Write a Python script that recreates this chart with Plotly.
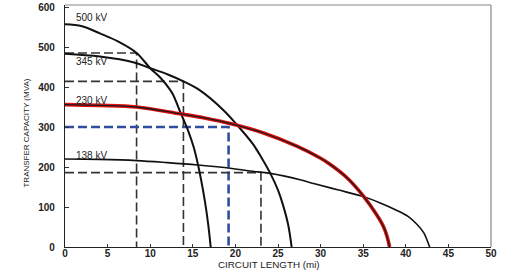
import plotly.graph_objects as go

# ---- data ----
x_500 = [0, 2.0, 4.1, 6.2, 8.4, 10.0, 11.2, 12.3, 12.7, 13.6, 14.5, 15.1, 15.6, 16.0, 16.4, 16.8, 17.1]
y_500 = [557, 552, 534, 514, 485, 447, 423, 394, 380, 334, 288, 250, 207, 165, 117, 58, 0]

x_345 = [0, 4.1, 8.0, 10.0, 12.0, 13.9, 15.8, 18.6, 20.2, 22.0, 23.1, 24.1, 25.0, 25.6, 26.2, 26.6]
y_345 = [483, 476, 462, 447, 432, 414, 392, 342, 305, 259, 222, 184, 142, 104, 55, 0]

x_230 = [0, 4.0, 8.4, 13.5, 16.5, 19.5, 23.3, 27.2, 29.9, 31.1, 33.0, 35.0, 36.6, 37.4, 37.8, 38.1]
y_230 = [356, 354, 350, 333, 322, 308, 285, 252, 223, 207, 175, 128, 80, 50, 26, 0]

x_138 = [0, 4.0, 8.4, 12.0, 15.6, 19.4, 21.7, 24.1, 27.6, 29.3, 32.0, 35.0, 37.0, 38.9, 40.3, 41.3, 42.1, 42.5, 42.8]
y_138 = [220, 219, 216, 211, 205, 197, 190, 184, 168, 158, 143, 126, 110, 92, 76, 57, 36, 17, 0]

curve_labels = ["500 kV", "345 kV", "230 kV", "138 kV"]
label_x = [1.1, 1.1, 1.1, 1.1]
label_y = [574, 463, 367, 230]

guide_x = [8.4, 13.9, 19.2, 23.0]
guide_y = [485, 414, 300, 186]
guide_color = ["#333333", "#333333", "#2f4f9e", "#333333"]
guide_width = [1.6, 1.6, 2.6, 1.6]

x_ticks = [0, 5, 10, 15, 20, 25, 30, 35, 40, 45, 50]
y_ticks = [0, 100, 200, 300, 400, 500, 600]

fig = go.Figure()

# dashed guide lines
for gx, gy, gc, gw in zip(guide_x, guide_y, guide_color, guide_width):
    fig.add_trace(go.Scatter(
        x=[0, gx, gx], y=[gy, gy, 0], mode="lines",
        line=dict(color=gc, width=gw, dash="9px,4px"),
        hoverinfo="skip", showlegend=False))

# curves
fig.add_trace(go.Scatter(x=x_500, y=y_500, mode="lines",
                         line=dict(color="#111111", width=2.0, shape="spline"), showlegend=False))
fig.add_trace(go.Scatter(x=x_345, y=y_345, mode="lines",
                         line=dict(color="#111111", width=2.0, shape="spline"), showlegend=False))
fig.add_trace(go.Scatter(x=x_138, y=y_138, mode="lines",
                         line=dict(color="#111111", width=1.6, shape="spline"), showlegend=False))
fig.add_trace(go.Scatter(x=x_230, y=y_230, mode="lines",
                         line=dict(color="#e01010", width=3.6, shape="spline"), showlegend=False))
fig.add_trace(go.Scatter(x=x_230, y=y_230, mode="lines",
                         line=dict(color="#1a1a1a", width=1.3, shape="spline"), showlegend=False))

for t, lx, ly in zip(curve_labels, label_x, label_y):
    fig.add_annotation(x=lx, y=ly, text=t, showarrow=False, xanchor="left", yanchor="middle",
                       font=dict(family="Liberation Sans, Arial", size=10, color="#222222"))

fig.add_annotation(x=0.479, y=0, xref="paper", yref="paper", yshift=-10, text="CIRCUIT LENGTH (mi)",
                   showarrow=False, xanchor="center", yanchor="top",
                   font=dict(family="Liberation Sans, Arial", size=9.8, color="#222222"))
fig.add_annotation(x=-0.0915, y=0.469, xref="paper", yref="paper", text="TRANSFER CAPACITY (MVA)",
                   textangle=-90, showarrow=False, xanchor="center", yanchor="middle",
                   font=dict(family="Liberation Sans, Arial", size=8, color="#222222"))

fig.add_shape(type="line", xref="paper", yref="paper", x0=0, x1=1, y0=1, y1=1,
              line=dict(color="#888888", width=1.2))
fig.add_shape(type="line", xref="paper", yref="paper", x0=1, x1=1, y0=0, y1=1,
              line=dict(color="#888888", width=1.2))

fig.update_layout(
    width=512, height=270,
    margin=dict(l=65, r=21, t=5, b=23),
    paper_bgcolor="white", plot_bgcolor="white",
    showlegend=False,
    xaxis=dict(range=[0, 50], tickvals=x_ticks, ticks="inside", ticklen=3, tickcolor="#333",
               showline=True, linecolor="#222", linewidth=1.3, showgrid=False, zeroline=False,
               ticklabelstandoff=-3,
               tickfont=dict(family="Liberation Sans, Arial", size=10, color="#222", weight="bold"),
               automargin=False),
    yaxis=dict(range=[0, 605], tickvals=y_ticks, ticks="inside", ticklen=4, tickcolor="#333",
               showline=True, linecolor="#222", linewidth=1.3, showgrid=False, zeroline=False,
               ticklabelstandoff=7,
               tickfont=dict(family="Liberation Sans, Arial", size=10, color="#222", weight="bold"),
               automargin=False),
)

fig.write_html("out.html")
